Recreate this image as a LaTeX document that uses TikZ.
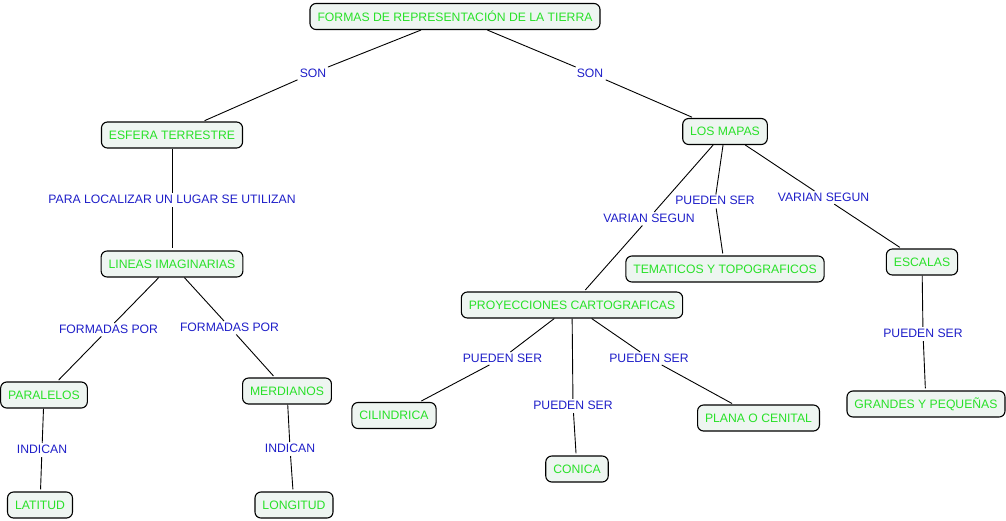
\documentclass[tikz,border=0pt]{standalone}
\usepackage{fontspec}
\setmainfont{Liberation Sans}
\definecolor{textoconcepto}{RGB}{40,225,40}
\definecolor{textoenlace}{RGB}{30,30,200}
\definecolor{fondoconcepto}{RGB}{238,245,241}
\begin{document}
\begin{tikzpicture}[x=1pt,y=-1pt,
    concepto/.style={draw,line width=1.1pt,rounded corners=6pt,fill=fondoconcepto,
        text=textoconcepto,minimum height=26pt,inner xsep=7.5pt,font=\fontsize{12.2}{14}\selectfont},
    enlace/.style={text=textoenlace,inner sep=1.5pt,font=\fontsize{12.2}{14}\selectfont},
    linea/.style={draw,line width=0.9pt,shorten <=2pt,shorten >=2pt}]

    \useasboundingbox (0,0) rectangle (1006,520);

    \node[concepto] (formas) at (455,16.5) {FORMAS DE REPRESENTACIÓN DE LA TIERRA};
    \node[concepto] (esfera) at (172,135) {ESFERA TERRESTRE};
    \node[concepto] (mapas) at (725,131.5) {LOS MAPAS};
    \node[concepto] (lineas) at (172,264) {LINEAS IMAGINARIAS};
    \node[concepto] (paralelos) at (44,395) {PARALELOS};
    \node[concepto] (meridianos) at (287,391) {MERDIANOS};
    \node[concepto] (latitud) at (40,505) {LATITUD};
    \node[concepto] (longitud) at (294,505) {LONGITUD};
    \node[concepto] (proyecciones) at (572,305) {PROYECCIONES CARTOGRAFICAS};
    \node[concepto] (tematicos) at (725,269) {TEMATICOS Y TOPOGRAFICOS};
    \node[concepto] (escalas) at (922,262) {ESCALAS};
    \node[concepto] (grandes) at (926,404) {GRANDES Y PEQUEÑAS};
    \node[concepto] (cilindrica) at (394,415.5) {CILINDRICA};
    \node[concepto] (conica) at (577,469) {CONICA};
    \node[concepto] (plana) at (758.5,418) {PLANA O CENITAL};

    \node[enlace] (son1) at (313,73) {SON};
    \node[enlace] (son2) at (590,73) {SON};
    \node[enlace] (localizar) at (172,199) {PARA LOCALIZAR UN LUGAR SE UTILIZAN};
    \node[enlace] (formadas1) at (108.5,329) {FORMADAS POR};
    \node[enlace] (formadas2) at (229.5,327) {FORMADAS POR};
    \node[enlace] (indican1) at (42,449) {INDICAN};
    \node[enlace] (indican2) at (290,448) {INDICAN};
    \node[enlace] (varian1) at (649,218) {VARIAN SEGUN};
    \node[enlace] (pueden1) at (715,200.5) {PUEDEN SER};
    \node[enlace] (varian2) at (823.5,197) {VARIAN SEGUN};
    \node[enlace] (pueden2) at (923,333) {PUEDEN SER};
    \node[enlace] (pueden3) at (502.5,358) {PUEDEN SER};
    \node[enlace] (pueden4) at (573,405) {PUEDEN SER};
    \node[enlace] (pueden5) at (649,358) {PUEDEN SER};

    \draw[linea] (formas) -- (son1) (son1) -- (esfera);
    \draw[linea] (formas) -- (son2) (son2) -- (mapas);
    \draw[linea] (esfera) -- (localizar) (localizar) -- (lineas);
    \draw[linea] (lineas) -- (formadas1) (formadas1) -- (paralelos);
    \draw[linea] (lineas) -- (formadas2) (formadas2) -- (meridianos);
    \draw[linea] (paralelos) -- (indican1) (indican1) -- (latitud);
    \draw[linea] (meridianos) -- (indican2) (indican2) -- (longitud);
    \draw[linea] (mapas) -- (varian1) (varian1) -- (proyecciones);
    \draw[linea] (mapas) -- (pueden1) (pueden1) -- (tematicos);
    \draw[linea] (mapas) -- (varian2) (varian2) -- (escalas);
    \draw[linea] (escalas) -- (pueden2) (pueden2) -- (grandes);
    \draw[linea] (proyecciones) -- (pueden3) (pueden3) -- (cilindrica);
    \draw[linea] (proyecciones) -- (pueden4) (pueden4) -- (conica);
    \draw[linea] (proyecciones) -- (pueden5) (pueden5) -- (plana);
\end{tikzpicture}
\end{document}
